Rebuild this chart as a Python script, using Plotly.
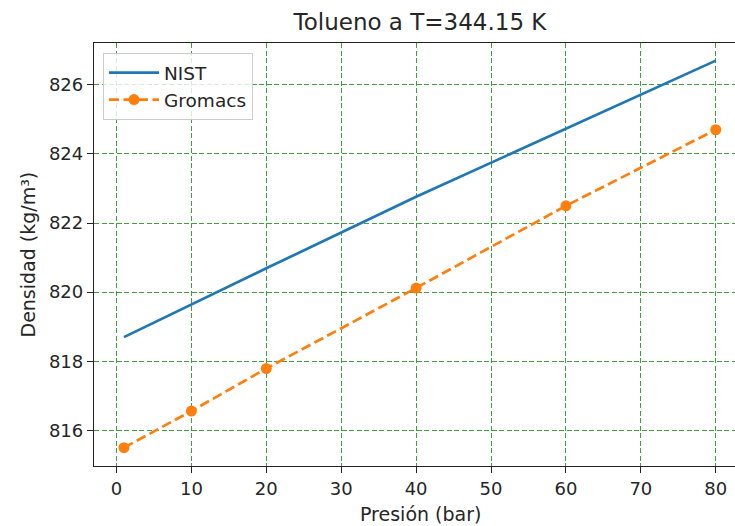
import plotly.graph_objects as go

# NIST reference density of toluene at 344.15 K
nist_p = [1, 20, 40, 60, 80]
nist_rho = [818.70, 820.69, 822.76, 824.74, 826.70]

# Gromacs simulation results
gmx_p = [1, 10, 20, 40, 60, 80]
gmx_rho = [815.50, 816.56, 817.79, 820.12, 822.50, 824.70]

x_ticks = [0, 10, 20, 30, 40, 50, 60, 70, 80]
y_ticks = [816, 818, 820, 822, 824, 826]

FONT = "DejaVu Sans"
TXT = "#262626"
W, H = 735, 526
L, R, T, B = 94, 0, 43, 60

fig = go.Figure()
fig.add_trace(go.Scatter(
    x=nist_p, y=nist_rho, mode="lines", name="NIST",
    line=dict(color="#1f77b4", width=2.7),
))
fig.add_trace(go.Scatter(
    x=gmx_p, y=gmx_rho, mode="lines+markers", name="Gromacs",
    line=dict(color="#ff7f0e", width=2.7, dash="10px,4.5px"),
    marker=dict(color="#ff7f0e", size=11, symbol="circle"),
))

grid = dict(showgrid=True, gridcolor="rgba(0,128,0,0.75)", gridwidth=1.2,
            griddash="5px,2.5px", zeroline=False)
axis_common = dict(
    showline=True, linecolor="#222", linewidth=1.3,
    ticks="outside", ticklen=6, tickwidth=1.3, tickcolor="#222",
    tickfont=dict(family=FONT, size=18, color=TXT),
)

fig.update_xaxes(range=[-3.0, 82.57], tickvals=x_ticks, mirror=True,
                 **grid, **axis_common)
fig.update_yaxes(range=[814.97, 827.21], tickvals=y_ticks,
                 **grid, **axis_common)

pw = W - L - R
ph = H - T - B
fig.add_annotation(text="Presión (bar)", xref="paper", yref="paper",
                   x=(420 - L) / pw, y=(H - B - 514) / ph,
                   xanchor="center", yanchor="middle", showarrow=False,
                   font=dict(family=FONT, size=19, color=TXT))
fig.add_annotation(text="Densidad (kg/m³)", xref="paper", yref="paper",
                   x=(27 - L) / pw, y=0.5, textangle=-90,
                   xanchor="center", yanchor="middle", showarrow=False,
                   font=dict(family=FONT, size=19, color=TXT))

fig.update_layout(
    width=W, height=H,
    margin=dict(l=L, r=R, t=T, b=B),
    paper_bgcolor="white", plot_bgcolor="white",
    title=dict(text="Tolueno a T=344.15 K", xref="container", yref="container",
               x=420 / W, y=1 - 22 / H, xanchor="center", yanchor="middle",
               font=dict(family=FONT, size=23, color=TXT)),
    legend=dict(x=(103 - L) / pw, y=(H - B - 53) / ph, xanchor="left", yanchor="top",
                bgcolor="rgba(255,255,255,0.8)", bordercolor="#cccccc", borderwidth=1,
                font=dict(family=FONT, size=18.5, color=TXT),
                itemwidth=50, tracegroupgap=0),
    showlegend=True,
)

fig.write_html("out.html")
